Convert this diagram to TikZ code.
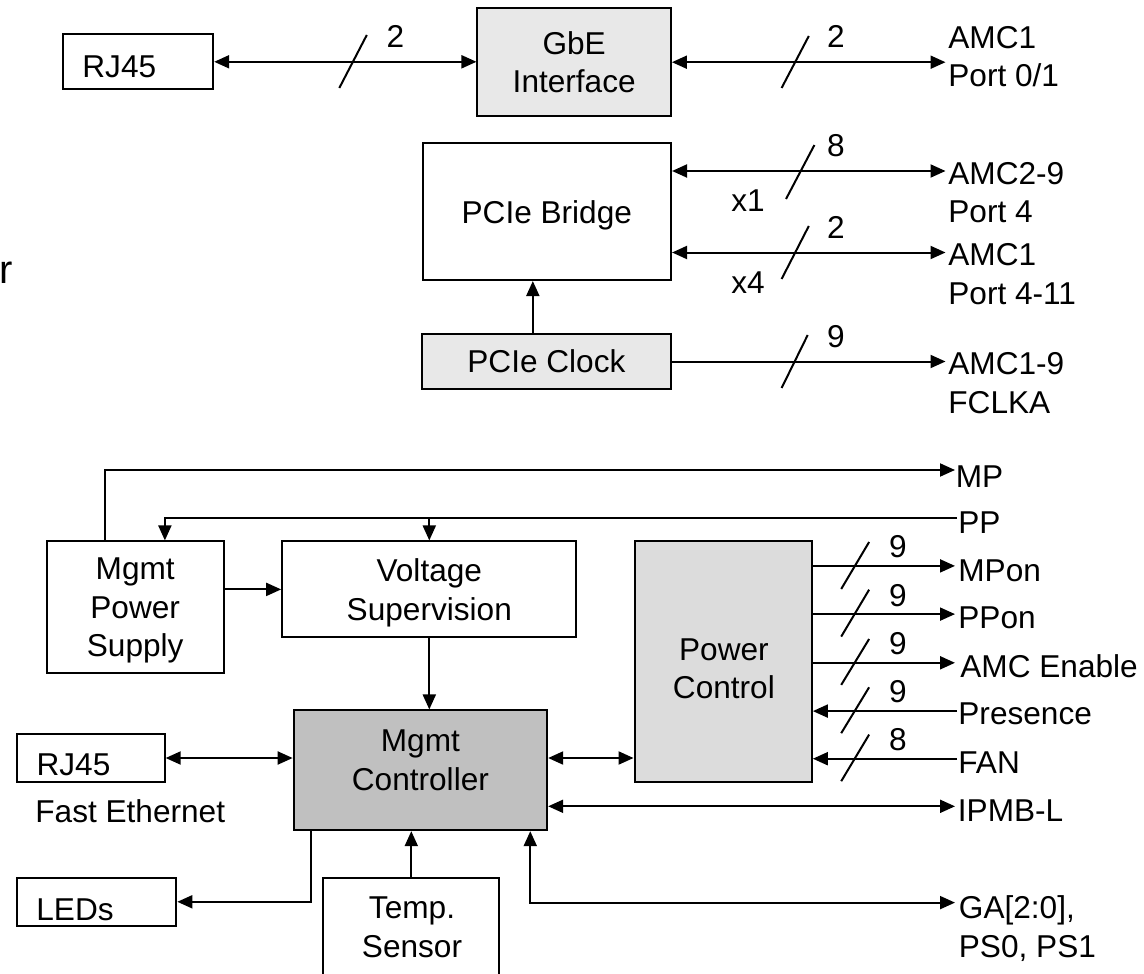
\documentclass[tikz,border=0pt]{standalone}
\usepackage{fontspec}
\setmainfont{Liberation Sans}
\usetikzlibrary{arrows.meta, calc}

\definecolor{lightfill}{RGB}{232,232,232}
\definecolor{midfill}{RGB}{220,220,220}
\definecolor{darkfill}{RGB}{192,192,192}

\begin{document}
\begin{tikzpicture}[
    x=0.5pt, y=-0.5pt,
    font=\fontsize{15.8}{19.2}\selectfont,
    box/.style={rectangle, draw, line width=1pt, inner sep=0pt, align=center, text depth=0pt},
    txt/.style={inner sep=0pt, align=center, anchor=base},
    sig/.style={inner sep=0pt, align=left, anchor=base west},
    conn/.style={->, >={Triangle[length=7.5pt, width=6.5pt]}, line width=1pt},
    bus/.style={<->, >={Triangle[length=7.5pt, width=6.5pt]}, line width=1pt},
    slash/.style={line width=1pt}
]

% White background, cut to the page
\clip (0,0) rectangle (1144,973);
\path [fill=white] (0,0) rectangle (1144,973);

% ==================== GBE PATH ====================

\node[box, minimum width=75pt, minimum height=27.5pt] (rjA) at (138.2,61.8) {};
\node[sig] (rjAtxt) at (82,77.3) {RJ45};

\node[box, fill=lightfill, minimum width=96.75pt, minimum height=54.15pt] (gbe) at (574.2,62.2) {GbE\\Interface};

% multi-line labels sit on their last line
\coordinate (amcAend) at (945.5,62.2);
\node[sig] (amcA) at (948,87) {AMC1\\Port 0/1};

\draw[bus] (rjA.east) -- (rjA.east -| gbe.west);
\draw[slash] (339.3,88) -- (366.8,35);
\node[txt] (nA) at (395.5,48) {2};

\draw[bus] (gbe.east) -- (amcAend);
\draw[slash] (781.6,88) -- (808.8,36);
\node[txt] (nB) at (836,48) {2};

% ==================== PCIE ====================

\node[box, minimum width=124.25pt, minimum height=68.35pt] (bridge) at (546.8,211.7) {PCIe Bridge};

\coordinate (x1end) at (945.5,171);
\coordinate (x4end) at (945.5,252.5);
\node[sig] (amcB) at (948,222.7) {AMC2-9\\Port 4};
\node[sig] (amcC) at (948,304) {AMC1\\Port 4-11};

\draw[bus] (bridge.east |- x1end) -- (x1end);
\draw[slash] (786,199) -- (814.4,145);
\node[txt] (nC) at (836,157) {8};
\node[txt] (lx1) at (748,211.7) {x1};

\draw[bus] (bridge.east |- x4end) -- (x4end);
\draw[slash] (781.6,279) -- (808.8,226);
\node[txt] (nD) at (836,238) {2};
\node[txt] (lx4) at (748,293.3) {x4};

% Clock
\node[box, fill=lightfill, minimum width=124.65pt, minimum height=27.5pt] (clock) at (546.4,361.5) {PCIe Clock};
\coordinate (ck) at ($(clock.north west)!0.446!(clock.north east)$);
\draw[conn] (ck) -- (ck |- bridge.south);

\coordinate (amcDend) at (945.5,361.5);
\node[sig] (amcD) at (948,413.3) {AMC1-9\\FCLKA};
\draw[conn] (clock.east) -- (amcDend);
\draw[slash] (781.6,388) -- (807.7,335);
\node[txt] (nE) at (836,347) {9};

% cut-off letter at the left edge
\node[txt, anchor=base east, font=\fontsize{20}{24}\selectfont] (cut) at (13,283.3) {r};

% ==================== MANAGEMENT BLOCKS ====================

\node[box, minimum width=88.4pt, minimum height=65.8pt] (mps) at (135.2,607.2) {Mgmt\\Power\\Supply};
\node[box, minimum width=147.15pt, minimum height=47.95pt] (volt) at (429.3,589.4) {Voltage\\Supervision};

\node[box, fill=darkfill, minimum width=126.75pt, minimum height=59.85pt] (mc) at (420.4,770.3) {};
\node[txt] (mctxt) at (420.4,790.3) {Mgmt\\Controller};

\node[box, fill=midfill, minimum width=88.65pt, minimum height=120.2pt] (pc) at (723.2,661.6) {};
\node[txt] (pctxt) at (723.9,698.5) {Power\\Control};

\node[box, minimum width=73.75pt, minimum height=23.8pt] (rjB) at (90.9,758) {};
\node[sig] (rjBtxt) at (36.2,775) {RJ45};
\node[sig] (eth) at (35,822.7) {Fast Ethernet};

\node[box, minimum width=79.85pt, minimum height=24.15pt] (leds) at (96.5,901.8) {};
\node[sig] (ledstxt) at (36,920) {LEDs};

\node[box, minimum width=88pt, minimum height=61.15pt] (temp) at (411.3,938.9) {};
\node[txt] (temptxt) at (412,957) {Temp.\\Sensor};

% ==================== SUPPLY LINES ====================

\coordinate (mpend) at (955,470);
\node[sig] (mp) at (955.5,487.6) {MP};
\draw[conn] ($(mps.north west)!0.333!(mps.north east)$) |- (mpend);

\coordinate (ppend) at (957,518.2);
\node[sig] (pp) at (958,533.5) {PP};
\draw[conn] (ppend) -| ($(mps.north west)!0.666!(mps.north east)$);
\draw[conn] (volt.north |- ppend) -- (volt.north);

\draw[conn] (mps.east |- volt.west) -- (volt.west);
\draw[conn] (volt.south) -- (volt.south |- mc.north);

% ==================== CONTROLLER LINKS ====================

\draw[bus] (rjB.east) -- (rjB.east -| mc.west);
\draw[bus] (mc.east |- rjB.east) -- (pc.west |- rjB.east);
\draw[conn] ($(mc.south west)!0.072!(mc.south east)$) |- (leds.east);
\draw[conn] (temp.north) -- (temp.north |- mc.south);

\coordinate (ipmbend) at (955,806.3);
\node[sig] (ipmb) at (957.5,821) {IPMB-L};
\draw[bus] (mc.east |- ipmbend) -- (ipmbend);

\coordinate (gaend) at (955,902.6);
\node[sig] (ga) at (958.5,957) {GA[2:0],\\PS0, PS1};
\draw[bus] ($(mc.south west)!0.93!(mc.south east)$) |- (gaend);

% ==================== POWER CONTROL SIGNALS ====================

\coordinate (mponend) at (955,565.9);
\node[sig] (mpon) at (958,581.2) {MPon};
\draw[conn] (pc.east |- mponend) -- (mponend);
\draw[slash] (841.2,589) -- (869.1,542);
\node[txt] (nF) at (897.8,557.3) {9};

\coordinate (pponend) at (955,614.1);
\node[sig] (ppon) at (958,628.8) {PPon};
\draw[conn] (pc.east |- pponend) -- (pponend);
\draw[slash] (841.2,636.6) -- (869.1,589.7);
\node[txt] (nG) at (897.8,606) {9};

\coordinate (amcenend) at (955,662.8);
\node[sig] (amcen) at (960,677) {AMC Enable};
\draw[conn] (pc.east |- amcenend) -- (amcenend);
\draw[slash] (841.2,684.9) -- (869.1,639);
\node[txt] (nH) at (897.8,654.3) {9};

\coordinate (presend) at (957,711.1);
\node[sig] (pres) at (958,724.7) {Presence};
\draw[conn] (presend) -- (pc.east |- presend);
\draw[slash] (841.2,733.2) -- (869.1,687.3);
\node[txt] (nI) at (897.8,702.6) {9};

\coordinate (fanend) at (957,758.7);
\node[sig] (fan) at (958,773.3) {FAN};
\draw[conn] (fanend) -- (pc.east |- fanend);
\draw[slash] (841.2,781.2) -- (869.1,734.6);
\node[txt] (nJ) at (897.8,750.2) {8};

\end{tikzpicture}
\end{document}
